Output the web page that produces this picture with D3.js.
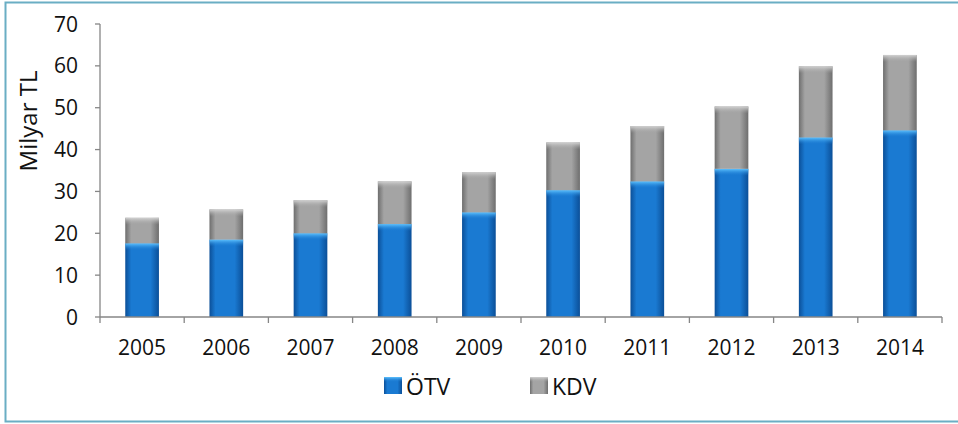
<!DOCTYPE html>
<html>
<head>
<meta charset="utf-8">
<script src="https://cdn.jsdelivr.net/npm/d3@7"></script>
<style>
  body { margin: 0; background: #fff; }
  svg { font-family: "Open Sans", "Noto Sans", sans-serif; }
</style>
</head>
<body>
<div class="chart"></div>
<script>
const years = ["2005", "2006", "2007", "2008", "2009", "2010", "2011", "2012", "2013", "2014"];
const otv = [17.6, 18.5, 20.0, 22.2, 25.0, 30.3, 32.4, 35.4, 42.9, 44.6];
const kdv = [6.1, 7.2, 7.9, 10.2, 9.6, 11.4, 13.2, 14.9, 17.0, 18.0];
const yTicks = [0, 10, 20, 30, 40, 50, 60, 70];
const seriesNames = ["ÖTV", "KDV"];

const width = 958;
const height = 424;
const margin = { top: 24, right: 16, bottom: 107, left: 100 };

const svg = d3
  .select(".chart")
  .append("svg")
  .attr("width", width)
  .attr("height", height);

// gradients for the bars (bright centre, dark edges)
const defs = svg.append("defs");
function sideGrad(id, edge, mid) {
  const g = defs.append("linearGradient").attr("id", id)
    .attr("x1", "0%").attr("x2", "100%").attr("y1", "0%").attr("y2", "0%");
  g.append("stop").attr("offset", "0%").attr("stop-color", edge);
  g.append("stop").attr("offset", "18%").attr("stop-color", mid);
  g.append("stop").attr("offset", "75%").attr("stop-color", mid);
  g.append("stop").attr("offset", "100%").attr("stop-color", edge);
}
sideGrad("blueGrad", "#0b4f98", "#1a7ad2");
sideGrad("grayGrad", "#6e6e6e", "#a4a4a4");
function topGrad(id, c1, c2) {
  const g = defs.append("linearGradient").attr("id", id)
    .attr("x1", "0%").attr("x2", "0%").attr("y1", "0%").attr("y2", "100%");
  g.append("stop").attr("offset", "0%").attr("stop-color", c1);
  g.append("stop").attr("offset", "100%").attr("stop-color", c2).attr("stop-opacity", 0);
}
topGrad("blueTop", "#5fc3ff", "#1a7ad2");
topGrad("grayTop", "#d2d2d2", "#a4a4a4");

// frame (right side is cut off in the original)
svg.append("path")
  .attr("d", `M${width + 2},2.5 H5.5 V421.5 H${width + 2}`)
  .attr("fill", "none")
  .attr("stroke", "#6aaec4")
  .attr("stroke-width", 2);

const x = d3.scaleBand()
  .domain(years)
  .range([margin.left, 942]);

const y = d3.scaleLinear()
  .domain([0, 70])
  .range([height - margin.bottom, margin.top]);

const barW = x.bandwidth() * 0.4;

// y axis
svg.append("line")
  .attr("x1", margin.left).attr("x2", margin.left)
  .attr("y1", y(70)).attr("y2", y(0))
  .attr("stroke", "#868686").attr("stroke-width", 1.3);
svg.selectAll("line.ytick")
  .data(yTicks)
  .enter()
  .append("line")
  .attr("class", "ytick")
  .attr("x1", margin.left - 5).attr("x2", margin.left)
  .attr("y1", (d) => y(d)).attr("y2", (d) => y(d))
  .attr("stroke", "#868686").attr("stroke-width", 1.3);
svg.selectAll("text.ytick")
  .data(yTicks)
  .enter()
  .append("text")
  .attr("class", "ytick")
  .attr("x", 78)
  .attr("y", (d) => y(d))
  .attr("dy", "0.36em")
  .attr("text-anchor", "end")
  .attr("font-size", 21)
  .attr("fill", "#111")
  .text((d) => d);

svg.append("text")
  .attr("transform", "translate(37,121) rotate(-90)")
  .attr("text-anchor", "middle")
  .attr("font-size", 24)
  .attr("fill", "#111")
  .text("Milyar TL");

// bars
const bars = svg.selectAll("g.bar")
  .data(years)
  .enter()
  .append("g")
  .attr("class", "bar");

bars.append("rect")
  .attr("x", (d) => x(d) + (x.bandwidth() - barW) / 2)
  .attr("y", (d, i) => y(otv[i]))
  .attr("width", barW)
  .attr("height", (d, i) => y(0) - y(otv[i]))
  .attr("fill", "url(#blueGrad)");
bars.append("rect")
  .attr("x", (d) => x(d) + (x.bandwidth() - barW) / 2)
  .attr("y", (d, i) => y(otv[i]))
  .attr("width", barW)
  .attr("height", 7)
  .attr("fill", "url(#blueTop)");

bars.append("rect")
  .attr("x", (d) => x(d) + (x.bandwidth() - barW) / 2)
  .attr("y", (d, i) => y(otv[i] + kdv[i]))
  .attr("width", barW)
  .attr("height", (d, i) => y(otv[i]) - y(otv[i] + kdv[i]))
  .attr("fill", "url(#grayGrad)");
bars.append("rect")
  .attr("x", (d) => x(d) + (x.bandwidth() - barW) / 2)
  .attr("y", (d, i) => y(otv[i] + kdv[i]))
  .attr("width", barW)
  .attr("height", 7)
  .attr("fill", "url(#grayTop)");

// x axis
svg.append("line")
  .attr("x1", margin.left).attr("x2", 942)
  .attr("y1", y(0)).attr("y2", y(0))
  .attr("stroke", "#868686").attr("stroke-width", 1.3);
svg.selectAll("line.xtick")
  .data(years.concat(["end"]))
  .enter()
  .append("line")
  .attr("class", "xtick")
  .attr("x1", (d) => (d === "end" ? x.range()[1] : x(d)))
  .attr("x2", (d) => (d === "end" ? x.range()[1] : x(d)))
  .attr("y1", y(0)).attr("y2", y(0) + 6)
  .attr("stroke", "#868686").attr("stroke-width", 1.3);
svg.selectAll("text.xtick")
  .data(years)
  .enter()
  .append("text")
  .attr("class", "xtick")
  .attr("x", (d) => x(d) + x.bandwidth() / 2)
  .attr("y", 355)
  .attr("text-anchor", "middle")
  .attr("font-size", 21)
  .attr("fill", "#111")
  .text((d) => d);

// legend
const legendX = [384, 530];
const legendFill = ["url(#blueGrad)", "url(#grayGrad)"];
const legend = svg.selectAll("g.legend")
  .data(seriesNames)
  .enter()
  .append("g")
  .attr("class", "legend")
  .attr("transform", (d, i) => `translate(${legendX[i]},377)`);
legend.append("rect")
  .attr("width", 18).attr("height", 17)
  .attr("fill", (d, i) => legendFill[i]);
legend.append("rect")
  .attr("width", 18).attr("height", 5)
  .attr("fill", (d, i) => (i === 0 ? "url(#blueTop)" : "url(#grayTop)"));
legend.append("text")
  .attr("x", 22)
  .attr("y", 18)
  .attr("font-size", 23)
  .attr("fill", "#111")
  .text((d) => d);
</script>
</body>
</html>
